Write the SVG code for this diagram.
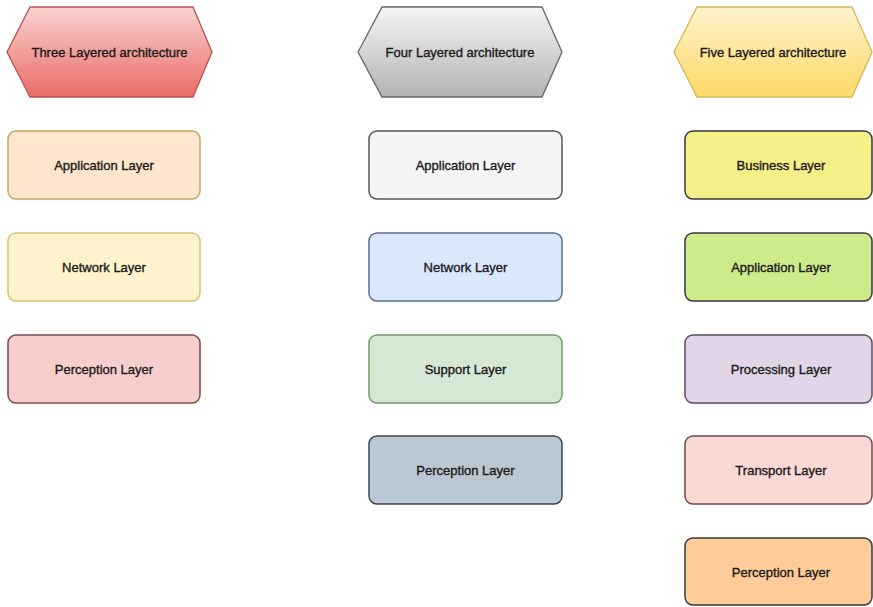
<svg xmlns="http://www.w3.org/2000/svg" width="873" height="607" viewBox="0 0 873 607">
  <defs>
    <linearGradient id="gRed" x1="0" y1="0" x2="0" y2="1">
      <stop offset="0" stop-color="#f9d3d2"/>
      <stop offset="1" stop-color="#ea6b66"/>
    </linearGradient>
    <linearGradient id="gGray" x1="0" y1="0" x2="0" y2="1">
      <stop offset="0" stop-color="#f5f5f5"/>
      <stop offset="1" stop-color="#b3b3b3"/>
    </linearGradient>
    <linearGradient id="gYellow" x1="0" y1="0" x2="0" y2="1">
      <stop offset="0" stop-color="#fff2cc"/>
      <stop offset="1" stop-color="#ffd966"/>
    </linearGradient>
  </defs>
  <style>
    rect.layer { stroke-width: 1.5; }
    polygon.head { stroke-width: 1.3; }
    text { font-family: "Liberation Sans", Arial, sans-serif; font-size: 13px; fill: #1a1a1a; stroke: #1a1a1a; stroke-width: 0.35; text-anchor: middle; dominant-baseline: central; }
  </style>
  <rect width="873" height="607" fill="#ffffff"/>

  <!-- Column headers -->
  <g id="three-layered">
    <polygon class="head" points="7,52 30,7 193,7 212,52 193,97 30,97" fill="url(#gRed)" stroke="#b85450"/>
    <text x="109.5" y="52">Three Layered architecture</text>
  </g>
  <g id="four-layered">
    <polygon class="head" points="358,52 382,7 542,7 562,52 542,97 382,97" fill="url(#gGray)" stroke="#666666"/>
    <text x="460" y="52">Four Layered architecture</text>
  </g>
  <g id="five-layered">
    <polygon class="head" points="674,52 697,7 852,7 872,52 852,97 697,97" fill="url(#gYellow)" stroke="#d6b656"/>
    <text x="773" y="52">Five Layered architecture</text>
  </g>

  <!-- Three layered stack -->
  <g id="c1-application">
    <rect class="layer" x="8" y="131" width="192" height="68" rx="8" fill="#ffe6cc" stroke="#c9a56a"/>
    <text x="104" y="165">Application Layer</text>
  </g>
  <g id="c1-network">
    <rect class="layer" x="8" y="233" width="192" height="68" rx="8" fill="#fff2cc" stroke="#d6c07a"/>
    <text x="104" y="267">Network Layer</text>
  </g>
  <g id="c1-perception">
    <rect class="layer" x="8" y="335" width="192" height="68" rx="8" fill="#f8cecc" stroke="#7a4a4a"/>
    <text x="104" y="369">Perception Layer</text>
  </g>

  <!-- Four layered stack -->
  <g id="c2-application">
    <rect class="layer" x="369" y="131" width="193" height="68" rx="8" fill="#f5f5f5" stroke="#555555"/>
    <text x="465.5" y="165">Application Layer</text>
  </g>
  <g id="c2-network">
    <rect class="layer" x="369" y="233" width="193" height="68" rx="8" fill="#dae8fc" stroke="#5a6e8a"/>
    <text x="465.5" y="267">Network Layer</text>
  </g>
  <g id="c2-support">
    <rect class="layer" x="369" y="335" width="193" height="68" rx="8" fill="#d5e8d4" stroke="#6f9a66"/>
    <text x="465.5" y="369">Support Layer</text>
  </g>
  <g id="c2-perception">
    <rect class="layer" x="369" y="436" width="193" height="68" rx="8" fill="#bac8d3" stroke="#3a4650"/>
    <text x="465.5" y="470">Perception Layer</text>
  </g>

  <!-- Five layered stack -->
  <g id="c3-business">
    <rect class="layer" x="685" y="131" width="187" height="68" rx="8" fill="#f3f088" stroke="#36393d"/>
    <text x="781" y="165">Business Layer</text>
  </g>
  <g id="c3-application">
    <rect class="layer" x="685" y="233" width="187" height="68" rx="8" fill="#cdeb8b" stroke="#36393d"/>
    <text x="781" y="267">Application Layer</text>
  </g>
  <g id="c3-processing">
    <rect class="layer" x="685" y="335" width="187" height="68" rx="8" fill="#e1d5e7" stroke="#5e4a66"/>
    <text x="781" y="369">Processing Layer</text>
  </g>
  <g id="c3-transport">
    <rect class="layer" x="685" y="436" width="187" height="68" rx="8" fill="#fad9d5" stroke="#6e4a48"/>
    <text x="781" y="470">Transport Layer</text>
  </g>
  <g id="c3-perception">
    <rect class="layer" x="685" y="538" width="187" height="67" rx="8" fill="#ffcc99" stroke="#36393d"/>
    <text x="781" y="572">Perception Layer</text>
  </g>

  <!-- Connectors (none drawn) -->
  <g id="connectors"/>
</svg>
